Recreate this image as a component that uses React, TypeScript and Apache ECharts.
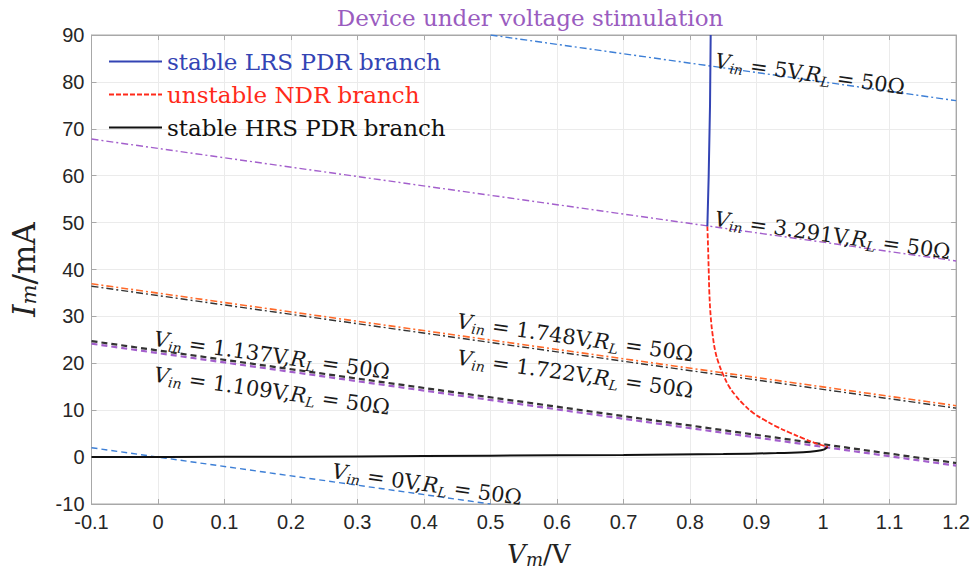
import React, { useEffect, useRef } from "react";
import * as echarts from "echarts";

// Device branches (Vm in V, Im in mA)
const lrsBranch: [number, number][] = [
  [0.826, 49.2], [0.828, 60], [0.83, 75], [0.831, 90],
];
const ndrBranch: [number, number][] = [
  [0.826, 49.2], [0.827, 45], [0.828, 40], [0.829, 35], [0.831, 30],
  [0.834, 26], [0.838, 22.5], [0.843, 20], [0.85, 17.5], [0.858, 15.2],
  [0.868, 13.2], [0.88, 11.3], [0.895, 9.4], [0.912, 7.9], [0.93, 6.5],
  [0.95, 5.2], [0.97, 4.0], [0.99, 2.9], [1.007, 2.2],
];
const hrsBranch: [number, number][] = [
  [-0.1, 0], [0.1, 0.05], [0.3, 0.15], [0.5, 0.3], [0.7, 0.45],
  [0.85, 0.65], [0.93, 0.85], [0.97, 1.05], [0.99, 1.3], [1.002, 1.65],
  [1.007, 2.2],
];

// Load lines, R_L = 50 Ω (end points)
const load0V: [number, number][] = [[-0.1, 2], [0.5, -10]];
const load5V: [number, number][] = [[0.5, 90], [1.2, 76]];
const load3291: [number, number][] = [[-0.1, 67.82], [1.2, 41.82]];
const load1748: [number, number][] = [[-0.1, 36.96], [1.2, 10.96]];
const load1722: [number, number][] = [[-0.1, 36.44], [1.2, 10.44]];
const load1137: [number, number][] = [[-0.1, 24.74], [1.2, -1.26]];
const load1109: [number, number][] = [[-0.1, 24.18], [1.2, -1.82]];

// Load-line captions: Vin text and anchor (left-middle of text, data coords)
const captionVin = ["5", "3.291", "1.748", "1.722", "1.137", "1.109", "0"];
const captionAnchor: [number, number][] = [
  [0.838, 84.5], [0.837, 50.8], [0.45, 29.0], [0.45, 21.2],
  [-0.006, 25.2], [-0.006, 17.6], [0.262, -3.0],
];

const xTicks = { min: -0.1, max: 1.2, interval: 0.1 };
const yTicks = { min: -10, max: 90, interval: 10 };

const SERIF = "'DejaVu Serif', 'Liberation Serif', serif";
const SANS = "'Liberation Sans', Arial, Helvetica, sans-serif";

const BLUE = "#3344b4";
const LIGHT_BLUE = "#3d7fd6";
const PURPLE = "#a35fcc";
const RED = "#ff2a1a";
const ORANGE = "#ff6a2a";
const AXIS_GRAY = "#a8a8a8";

function loadSeries(data: [number, number][], color: string, type: any, width = 1.4, z = 2) {
  return {
    type: "line",
    data,
    symbol: "none",
    silent: true,
    z,
    lineStyle: { color, width, type },
  };
}

export default function App() {
  const ref = useRef<HTMLDivElement>(null);

  useEffect(() => {
    if (!ref.current) return;
    const chart = echarts.init(ref.current, undefined, { renderer: "svg" });
    const dashDot = [7, 3, 2, 3];
    const dashed = [6, 4];

    const tickLabel = (v: number) => String(Math.round(v * 10) / 10);

    chart.setOption({
      animation: false,
      backgroundColor: "#ffffff",
      title: {
        text: "Device under voltage stimulation",
        left: 525,
        textAlign: "center",
        top: 1,
        textStyle: { color: "#9a5cbf", fontFamily: SERIF, fontSize: 23, fontWeight: "normal" },
      },
      grid: { left: 90, right: 16, top: 35, bottom: 70, show: true, borderColor: AXIS_GRAY, borderWidth: 1 },
      legend: {
        left: 103,
        top: 45,
        orient: "vertical",
        itemWidth: 53,
        itemHeight: 14,
        itemGap: 10,
        itemStyle: { opacity: 0 },
        textStyle: { fontFamily: SERIF, fontSize: 23 },
        data: [
          { name: "stable LRS PDR branch", textStyle: { color: BLUE } },
          { name: "unstable NDR branch", textStyle: { color: RED } },
          { name: "stable HRS PDR branch", textStyle: { color: "#111" } },
        ],
      },
      xAxis: [
        {
          type: "value",
          ...xTicks,
          name: "{i|V}{s|m}{n|/V}",
          nameLocation: "middle",
          nameGap: 36,
          nameTextStyle: {
            padding: [0, 0, 0, 30],
            rich: {
              i: { fontFamily: SERIF, fontStyle: "italic", fontSize: 26, lineHeight: 28, color: "#222" },
              s: { fontFamily: SERIF, fontStyle: "italic", fontSize: 18, lineHeight: 18, verticalAlign: "bottom", color: "#222" },
              n: { fontFamily: SERIF, fontSize: 26, lineHeight: 28, color: "#222" },
            },
          },
          axisLine: { onZero: false, lineStyle: { color: AXIS_GRAY } },
          axisTick: { inside: true, length: 5, lineStyle: { color: AXIS_GRAY } },
          axisLabel: { formatter: tickLabel, fontFamily: SANS, fontSize: 20, color: "#262626", margin: 8 },
          splitLine: { show: true, lineStyle: { color: "#ebebeb", width: 1 } },
        },
        {
          type: "value",
          ...xTicks,
          position: "top",
          axisLine: { onZero: false, lineStyle: { color: AXIS_GRAY } },
          axisTick: { inside: true, length: 5, lineStyle: { color: AXIS_GRAY } },
          axisLabel: { show: false },
          splitLine: { show: false },
        },
      ],
      yAxis: [
        {
          type: "value",
          ...yTicks,
          name: "{i|I}{s|m}{n|/mA}",
          nameLocation: "middle",
          nameGap: 52,
          nameTextStyle: {
            rich: {
              i: { fontFamily: SERIF, fontStyle: "italic", fontSize: 31, lineHeight: 32, color: "#222" },
              s: { fontFamily: SERIF, fontStyle: "italic", fontSize: 21, lineHeight: 20, verticalAlign: "bottom", color: "#222" },
              n: { fontFamily: SERIF, fontSize: 31, lineHeight: 32, color: "#222" },
            },
          },
          axisLine: { show: true, onZero: false, lineStyle: { color: AXIS_GRAY } },
          axisTick: { show: true, inside: true, length: 5, lineStyle: { color: AXIS_GRAY } },
          axisLabel: { fontFamily: SANS, fontSize: 20, color: "#262626", margin: 7 },
          splitLine: { show: true, lineStyle: { color: "#ebebeb", width: 1 } },
        },
        {
          type: "value",
          ...yTicks,
          position: "right",
          axisLine: { show: true, onZero: false, lineStyle: { color: AXIS_GRAY } },
          axisTick: { show: true, inside: true, length: 5, lineStyle: { color: AXIS_GRAY } },
          axisLabel: { show: false },
          splitLine: { show: false },
        },
      ],
      series: [
        loadSeries(load0V, LIGHT_BLUE, dashed, 1.4),
        loadSeries(load5V, LIGHT_BLUE, dashDot, 1.4),
        loadSeries(load3291, PURPLE, dashDot, 1.4),
        loadSeries(load1748, ORANGE, dashDot, 1.6),
        loadSeries(load1722, "#333", dashDot, 1.4, 3),
        loadSeries(load1109, PURPLE, dashed, 2.2),
        loadSeries(load1137, "#333", dashed, 2.2, 3),
        {
          name: "stable HRS PDR branch",
          type: "line",
          data: hrsBranch,
          symbol: "none",
          smooth: 0.3,
          z: 5,
          lineStyle: { color: "#111", width: 2 },
          itemStyle: { color: "#111" },
        },
        {
          name: "unstable NDR branch",
          type: "line",
          data: ndrBranch,
          symbol: "none",
          smooth: 0.4,
          z: 5,
          lineStyle: { color: RED, width: 1.8, type: [5, 2] },
          itemStyle: { color: RED },
        },
        {
          name: "stable LRS PDR branch",
          type: "line",
          data: lrsBranch,
          symbol: "none",
          z: 5,
          lineStyle: { color: BLUE, width: 2 },
          itemStyle: { color: BLUE },
        },
      ],
    });

    // Captions follow the slope of the load lines in pixel space
    const p1 = chart.convertToPixel({ gridIndex: 0 }, [0, 0]) as number[];
    const p2 = chart.convertToPixel({ gridIndex: 0 }, [1, -20]) as number[];
    const angle = Math.atan2(p2[1] - p1[1], p2[0] - p1[0]);

    const rich = {
      v: { fontFamily: SERIF, fontStyle: "italic", fontSize: 21, lineHeight: 25, fill: "#1a1a1a" },
      s: { fontFamily: SERIF, fontStyle: "italic", fontSize: 14, lineHeight: 15, verticalAlign: "bottom", fill: "#1a1a1a" },
      n: { fontFamily: SERIF, fontSize: 21, lineHeight: 25, fill: "#1a1a1a" },
    };

    const graphics = captionVin.map((vin, k) => {
      const p = chart.convertToPixel({ gridIndex: 0 }, captionAnchor[k]) as number[];
      return {
        type: "text",
        x: p[0],
        y: p[1],
        rotation: -angle,
        z: 10,
        style: {
          text: `{v|V}{s|in}{n| = ${vin}V,}{v|R}{s|L}{n| = 50Ω}`,
          rich,
          align: "left",
          verticalAlign: "middle",
        },
      };
    });
    chart.setOption({ graphic: graphics });

    return () => chart.dispose();
  }, []);

  return (
    <div
      ref={ref}
      style={{ position: "fixed", left: 0, top: 0, width: 973, height: 574 }}
    />
  );
}
